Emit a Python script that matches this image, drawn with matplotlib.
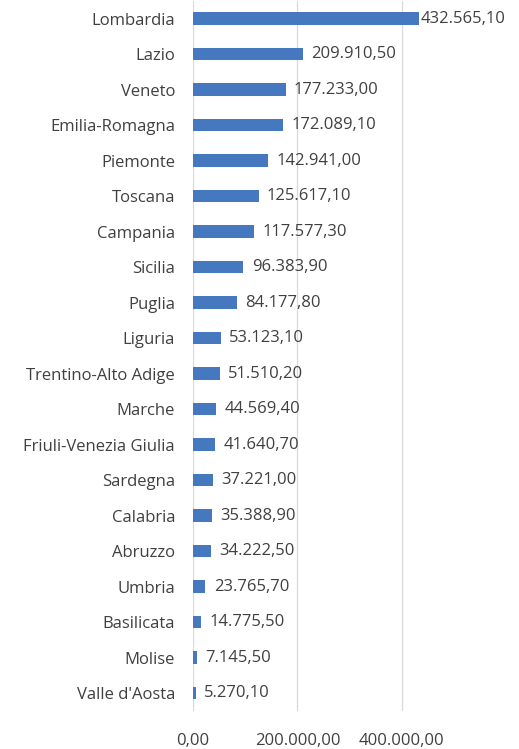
import matplotlib
matplotlib.use('Agg')
import matplotlib.pyplot as plt
import matplotlib.ticker as mticker

regions = ['Lombardia', 'Lazio', 'Veneto', 'Emilia-Romagna', 'Piemonte', 'Toscana',
           'Campania', 'Sicilia', 'Puglia', 'Liguria', 'Trentino-Alto Adige', 'Marche',
           'Friuli-Venezia Giulia', 'Sardegna', 'Calabria', 'Abruzzo', 'Umbria',
           'Basilicata', 'Molise', "Valle d'Aosta"]
values = [432565.10, 209910.50, 177233.00, 172089.10, 142941.00, 125617.10,
          117577.30, 96383.90, 84177.80, 53123.10, 51510.20, 44569.40,
          41640.70, 37221.00, 35388.90, 34222.50, 23765.70,
          14775.50, 7145.50, 5270.10]
xticks = [0, 200000, 400000]


def it_fmt(v):
    s = '{:,.2f}'.format(v)
    return s.replace(',', 'X').replace('.', ',').replace('X', '.')


plt.rcParams['font.family'] = ['Open Sans', 'DejaVu Sans']
txt = '#404040'
fs = 12

fig = plt.figure(figsize=(5.19, 7.49), dpi=100)
ax = fig.add_axes([0.372, 0.051, 0.503, 0.948])

ypos = list(range(len(regions)))
ax.barh(ypos, values, height=0.36, color='#4678C0', zorder=3)
for y, v in zip(ypos, values):
    # the widest bar gets its label close, as in the original
    off = 1.5 if v == max(values) else 6
    ax.annotate(it_fmt(v), (v, y), xytext=(off, 0), textcoords='offset points',
                va='center', ha='left', fontsize=fs, color=txt)

ax.set_yticks(ypos)
ax.set_yticklabels(regions, fontsize=fs, color=txt)
ax.set_ylim(len(regions) - 0.5, -0.5)
ax.set_xlim(0, 500000)
ax.set_xticks(xticks)
ax.xaxis.set_major_formatter(mticker.FuncFormatter(lambda v, p: it_fmt(v)))
ax.tick_params(axis='x', labelsize=fs, labelcolor=txt, length=0, pad=16)
ax.tick_params(axis='y', length=0, pad=13)
ax.grid(axis='x', color='#d9d9d9', linewidth=0.9, zorder=0)
for s in ax.spines.values():
    s.set_visible(False)

fig.savefig('out.png', dpi=100)
